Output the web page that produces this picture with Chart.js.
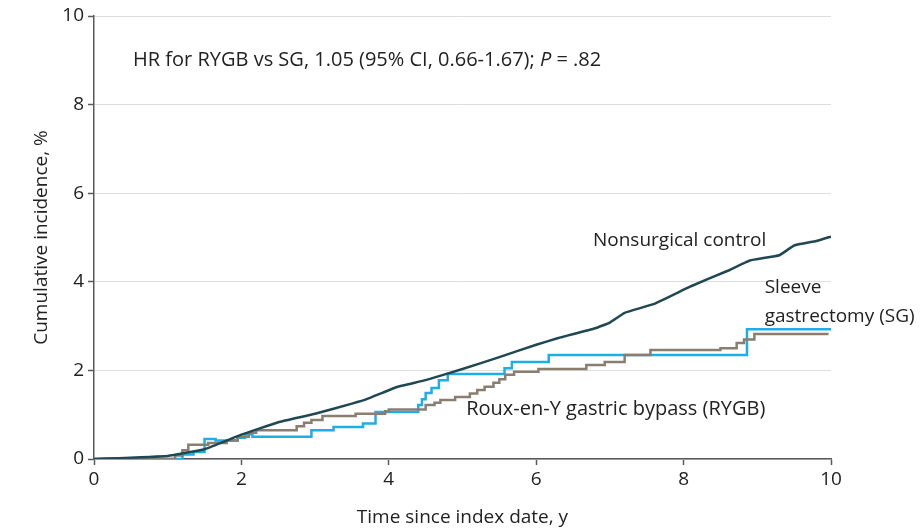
<!DOCTYPE html>
<html>
<head>
<meta charset="utf-8">
<script src="https://cdn.jsdelivr.net/npm/chart.js@4.4.1/dist/chart.umd.min.js"></script>
<style>
  html, body { margin: 0; padding: 0; background: #fff; }
  #wrap { width: 923px; height: 530px; }
</style>
</head>
<body>
<div id="wrap"><canvas id="chart" width="923" height="530"></canvas></div>
<script>
// tick values
const xTicks = [0, 2, 4, 6, 8, 10];
const yTicks = [0, 2, 4, 6, 8, 10];

// Nonsurgical control (smooth-ish line)
const controlX = [0, 1, 1.5, 2, 2.5, 3, 3.5, 3.7, 4.1, 4.5, 5, 5.5, 6, 6.3, 6.8, 7, 7.2, 7.6, 8.1, 8.6, 8.9, 9.3, 9.5, 9.8, 10];
const controlY = [0, 0.07, 0.22, 0.55, 0.83, 1.02, 1.25, 1.35, 1.62, 1.78, 2.03, 2.3, 2.58, 2.73, 2.95, 3.08, 3.3, 3.5, 3.9, 4.25, 4.48, 4.6, 4.82, 4.92, 5.02];

// Sleeve gastrectomy (blue step curve)
const sgX = [0, 1.0, 1.2, 1.35, 1.5, 1.65, 1.95, 2.05, 2.15, 2.95, 3.25, 3.65, 3.82, 4.4, 4.45, 4.5, 4.58, 4.68, 4.8, 5.57, 5.67, 6.17, 8.86, 10];
const sgY = [0, 0, 0.1, 0.16, 0.45, 0.42, 0.48, 0.56, 0.5, 0.65, 0.72, 0.8, 1.06, 1.22, 1.35, 1.49, 1.6, 1.78, 1.92, 2.05, 2.19, 2.35, 2.93, 2.93];

// Roux-en-Y gastric bypass (brown step curve)
const rygbX = [0, 1.0, 1.1, 1.2, 1.28, 1.55, 1.8, 1.95, 2.1, 2.2, 2.75, 2.85, 2.95, 3.1, 3.55, 3.95, 4.0, 4.5, 4.62, 4.7, 4.9, 5.1, 5.2, 5.3, 5.42, 5.5, 5.58, 5.7, 6.03, 6.68, 6.93, 7.2, 7.55, 8.5, 8.72, 8.82, 8.96, 9.95];
const rygbY = [0, 0, 0.08, 0.2, 0.32, 0.36, 0.42, 0.5, 0.59, 0.65, 0.74, 0.82, 0.88, 0.97, 1.02, 1.08, 1.12, 1.22, 1.27, 1.33, 1.4, 1.48, 1.56, 1.63, 1.72, 1.8, 1.9, 1.97, 2.03, 2.12, 2.19, 2.35, 2.46, 2.5, 2.62, 2.7, 2.82, 2.85];

const FONT = "'Open Sans', sans-serif";
const TEXT = '#222222';
const AXIS = '#5a5a5a';

const toPoints = (xs, ys) => xs.map((x, i) => ({ x: x, y: ys[i] }));

// text labels placed in data coordinates
const curveLabels = [
  { text: 'Nonsurgical control', x: 6.77, y: 4.94, size: 19 },
  { text: 'Sleeve', x: 9.1, y: 3.86, size: 19 },
  { text: 'gastrectomy (SG)', x: 9.1, y: 3.22, size: 19 },
  { text: 'Roux-en-Y gastric bypass (RYGB)', x: 5.05, y: 1.13, size: 20 }
];

const labelPlugin = {
  id: 'labels',
  afterDatasetsDraw(chart) {
    const { ctx, scales: { x, y } } = chart;
    ctx.save();
    ctx.fillStyle = TEXT;
    ctx.textBaseline = 'middle';
    ctx.textAlign = 'left';
    curveLabels.forEach(l => {
      ctx.font = `${l.size}px ${FONT}`;
      ctx.fillText(l.text, x.getPixelForValue(l.x), y.getPixelForValue(l.y));
    });

    // HR line, P in italics
    let px = x.getPixelForValue(0.53);
    const py = y.getPixelForValue(9.0);
    const parts = [
      ['HR for RYGB vs SG, 1.05 (95% CI, 0.66-1.67); ', false],
      ['P', true],
      [' = .82', false]
    ];
    parts.forEach(([t, it]) => {
      ctx.font = `${it ? 'italic ' : ''}20px ${FONT}`;
      ctx.fillText(t, px, py);
      px += ctx.measureText(t).width;
    });
    ctx.restore();
  }
};

const ctx = document.getElementById('chart').getContext('2d');
new Chart(ctx, {
  type: 'line',
  data: {
    datasets: [
      {
        label: 'Nonsurgical control',
        data: toPoints(controlX, controlY),
        borderColor: '#1f4853',
        borderWidth: 2.5,
        pointRadius: 0,
        tension: 0.1
      },
      {
        label: 'Roux-en-Y gastric bypass (RYGB)',
        data: toPoints(rygbX, rygbY),
        borderColor: '#8a7e71',
        borderWidth: 2.5,
        pointRadius: 0,
        stepped: 'before'
      },
      {
        label: 'Sleeve gastrectomy (SG)',
        data: toPoints(sgX, sgY),
        borderColor: '#1daee8',
        borderWidth: 2.5,
        pointRadius: 0,
        stepped: 'before'
      }
    ]
  },
  options: {
    responsive: false,
    animation: false,
    layout: { padding: { top: 16, right: 92, left: 0, bottom: 0 } },
    plugins: {
      legend: { display: false },
      tooltip: { enabled: false }
    },
    scales: {
      x: {
        type: 'linear',
        min: 0,
        max: 10,
        afterBuildTicks: s => { s.ticks = xTicks.map(v => ({ value: v })); },
        afterFit: s => { s.height = 71; },
        border: { color: AXIS, width: 1.5 },
        grid: { drawOnChartArea: false, drawTicks: true, tickLength: 6, tickColor: AXIS, tickWidth: 1.5 },
        ticks: { color: TEXT, font: { family: FONT, size: 19 }, padding: 3 },
        title: {
          display: true,
          text: 'Time since index date, y',
          color: TEXT,
          font: { family: FONT, size: 19 },
          padding: { top: 0, bottom: 1 }
        }
      },
      y: {
        type: 'linear',
        min: 0,
        max: 10,
        afterBuildTicks: s => { s.ticks = yTicks.map(v => ({ value: v })); },
        afterFit: s => { s.width = 94; },
        border: { color: AXIS, width: 1.5 },
        grid: { color: '#dedede', lineWidth: 1, drawTicks: true, tickLength: 6, tickColor: AXIS, tickWidth: 1.5 },
        ticks: { color: TEXT, font: { family: FONT, size: 19 }, padding: 4 },
        title: {
          display: true,
          text: 'Cumulative incidence, %',
          color: TEXT,
          font: { family: FONT, size: 19 },
          padding: { top: 30, bottom: 0 }
        }
      }
    }
  },
  plugins: [labelPlugin]
});
</script>
</body>
</html>
